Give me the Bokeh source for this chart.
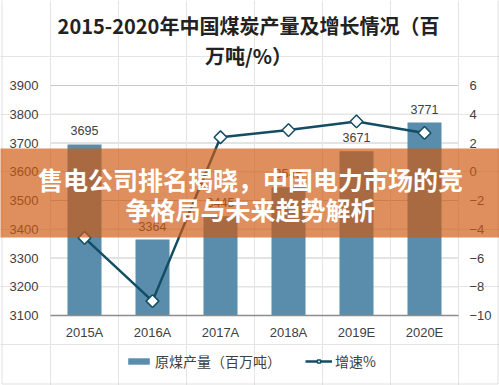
from bokeh.plotting import figure
from bokeh.models import (Range1d, LinearAxis, FixedTicker, Label, BoxAnnotation,
                          Legend, LegendItem, ColumnDataSource)
from bokeh.core.properties import value
from bokeh.embed import file_html
from bokeh.resources import INLINE
import math

# ---------------- data ----------------
categories = ["2015A", "2016A", "2017A", "2018A", "2019E", "2020E"]
output_mt = [3695, 3364, 3445, 3546, 3671, 3771]
growth_pct = [-4.6, -9.0, 2.4, 2.9, 3.5, 2.7]
left_ticks = [3100, 3200, 3300, 3400, 3500, 3600, 3700, 3800, 3900]
right_ticks = [-10, -8, -6, -4, -2, 0, 2, 4, 6]
title_lines = ["2015-2020年中国煤炭产量及增长情况（百", "万吨/%）"]
banner_lines = ["售电公司排名揭晓，中国电力市场的竞", "争格局与未来趋势解析"]
bar_label = "原煤产量（百万吨）"
line_label = "增速%"

# ---------------- layout / style ----------------
W, H = 499, 385
PL, PR, PT, PB = 50, 458, 85, 315          # plot-area edges in pixels
CJK = "Noto Sans CJK SC"
LAT = "Liberation Sans"
BAR_C = "#5a8cab"
LINE_C = "#124d63"
TXT_C = "#404040"

n = len(categories)
xs = [i + 0.5 for i in range(n)]
ppx = (PR - PL) / n
x_start, x_end = -PL / ppx, n + (W - PR) / ppx
L0, L1 = left_ticks[0], left_ticks[-1]
ppy = (PB - PT) / (L1 - L0)
y_start, y_end = L0 - (H - PB) / ppy, L1 + PT / ppy
R0, R1 = right_ticks[0], right_ticks[-1]
ppr = (PB - PT) / (R1 - R0)
r_start, r_end = R0 - (H - PB) / ppr, R1 + PT / ppr

src = ColumnDataSource(dict(x=xs, out=output_mt, g=growth_pct,
                            lbl=[str(v) for v in output_mt]))

p = figure(width=W, height=H, x_range=Range1d(x_start, x_end),
           y_range=Range1d(y_start, y_end), output_backend="svg",
           toolbar_location=None, min_border=0,
           x_axis_location=None, y_axis_location=None)
p.min_border_left = p.min_border_right = p.min_border_top = p.min_border_bottom = 0
p.outline_line_color = None
p.background_fill_color = "white"
p.border_fill_color = "white"
p.extra_y_ranges = {"pct": Range1d(r_start, r_end)}


def style_axis(ax, standoff):
    ax.major_tick_line_color = None
    ax.minor_tick_line_color = None
    ax.major_tick_out = 0
    ax.major_tick_in = 0
    ax.minor_tick_out = 0
    ax.major_label_standoff = standoff
    ax.major_label_text_font = LAT
    ax.major_label_text_font_size = "13px"
    ax.major_label_text_color = TXT_C


# gridlines over the plot area only
p.segment(x0=0, x1=n, y0=left_ticks, y1=left_ticks, line_color="#c8c8c8",
          line_width=1, level="underlay")

xax = LinearAxis(fixed_location=L0, bounds=(0, n), ticker=FixedTicker(ticks=xs),
                 major_label_overrides={x: c for x, c in zip(xs, categories)})
style_axis(xax, 9)
xax.axis_line_color = "#8c8c8c"
xax.axis_line_width = 1.5
p.add_layout(xax, "below")

lax = LinearAxis(fixed_location=0, ticker=FixedTicker(ticks=left_ticks))
style_axis(lax, 12)
lax.axis_line_color = None
p.add_layout(lax, "left")

rax = LinearAxis(fixed_location=n, y_range_name="pct", ticker=FixedTicker(ticks=right_ticks))
style_axis(rax, 11)
rax.axis_line_color = None
p.add_layout(rax, "right")

bars = p.vbar(x="x", top="out", bottom=L0, width=0.5, source=src,
              fill_color=BAR_C, line_color=None)
p.text(x="x", y="out", text="lbl", source=src, text_align="center",
       text_baseline="middle", y_offset=-13.5, text_font=value(LAT),
       text_font_size="12.5px", text_color=TXT_C)

ln = p.line(x="x", y="g", source=src, y_range_name="pct", line_color=LINE_C,
            line_width=2.5)
pts = p.scatter(x="x", y="g", source=src, y_range_name="pct", marker="square",
                angle=math.pi / 4, size=9, fill_color="white", line_color=LINE_C,
                line_width=1.5)

legend = Legend(items=[LegendItem(label=bar_label, renderers=[bars]),
                       LegendItem(label=line_label, renderers=[ln, pts])],
                orientation="horizontal", location=(125, 14))
legend.padding = 0
legend.margin = 0
legend.spacing = 24
legend.glyph_width = 27
legend.glyph_height = 8
legend.label_height = 8
legend.label_standoff = 3
legend.border_line_color = None
legend.background_fill_alpha = 0
legend.label_text_font = CJK
legend.label_text_font_size = "14px"
legend.label_text_color = TXT_C
p.add_layout(legend)

# title
for txt, yy in zip(title_lines, [H - 25, H - 55]):
    p.add_layout(Label(x=248, y=yy, x_units="screen", y_units="screen", text=txt,
                       text_align="center", text_baseline="middle", text_font=CJK,
                       text_font_style="bold", text_font_size="20px",
                       text_color="#222222"))

# outer frame of the picture
p.add_layout(BoxAnnotation(left=1.5, right=W - 1.5, bottom=1.5, top=H + 5,
                           left_units="screen", right_units="screen",
                           bottom_units="screen", top_units="screen",
                           fill_alpha=0, line_color="#9a9a9a", line_width=1))

# banner
p.add_layout(BoxAnnotation(left=-2, right=W + 2, bottom=H - 237, top=H - 148,
                           left_units="screen", right_units="screen",
                           bottom_units="screen", top_units="screen",
                           fill_color="#cf5a10", fill_alpha=0.68, line_color=None,
                           level="overlay"))
for txt, yy in zip(banner_lines, [H - 178, H - 208]):
    p.add_layout(Label(x=250, y=yy, x_units="screen", y_units="screen", text=txt,
                       text_align="center", text_baseline="middle", text_font=CJK,
                       text_font_style="bold", text_font_size="25px",
                       text_color="white", level="overlay"))

open("out.html", "w").write(file_html(p, INLINE))
